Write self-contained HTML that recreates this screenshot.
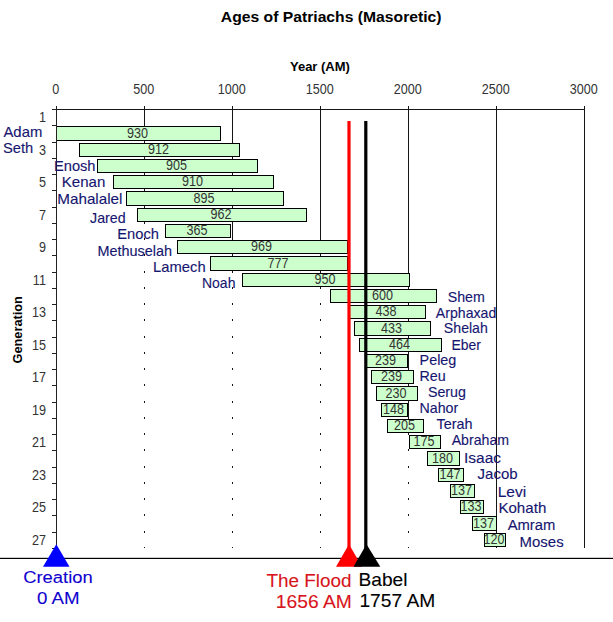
<!DOCTYPE html><html><head><meta charset="utf-8"><title>Ages of Patriachs</title><style>html,body{margin:0;padding:0;background:#fff;}#c{position:relative;width:613px;height:622px;overflow:hidden;font-family:"Liberation Sans",sans-serif;}</style></head><body><div id="c"><svg width="613" height="622" viewBox="0 0 613 622" shape-rendering="crispEdges" style="position:absolute;left:0;top:0"><rect x="0" y="0" width="613" height="622" fill="#fff"/><rect x="144" y="106" width="1" height="442" fill="#161616"/><rect x="232" y="106" width="1" height="442" fill="#161616"/><rect x="320" y="106" width="1" height="442" fill="#161616"/><rect x="408" y="106" width="1" height="442" fill="#161616"/><rect x="496" y="106" width="1" height="442" fill="#161616"/><rect x="584" y="106" width="1" height="442" fill="#161616"/><rect x="52" y="109" width="533" height="1" fill="#161616"/><rect x="56" y="126" width="165" height="15" fill="#000"/><rect x="57" y="127" width="163" height="13" fill="#ccffcc"/><rect x="57" y="143" width="22" height="14" fill="#fff"/><rect x="79" y="143" width="161" height="14" fill="#000"/><rect x="80" y="144" width="159" height="12" fill="#ccffcc"/><rect x="57" y="159" width="40" height="14" fill="#fff"/><rect x="97" y="159" width="161" height="14" fill="#000"/><rect x="98" y="160" width="159" height="12" fill="#ccffcc"/><rect x="57" y="175" width="56" height="14" fill="#fff"/><rect x="113" y="175" width="161" height="14" fill="#000"/><rect x="114" y="176" width="159" height="12" fill="#ccffcc"/><rect x="57" y="191" width="69" height="15" fill="#fff"/><rect x="126" y="191" width="158" height="15" fill="#000"/><rect x="127" y="192" width="156" height="13" fill="#ccffcc"/><rect x="57" y="208" width="80" height="14" fill="#fff"/><rect x="137" y="208" width="170" height="14" fill="#000"/><rect x="138" y="209" width="168" height="12" fill="#ccffcc"/><rect x="57" y="224" width="108" height="14" fill="#fff"/><rect x="165" y="224" width="66" height="14" fill="#000"/><rect x="166" y="225" width="64" height="12" fill="#ccffcc"/><rect x="57" y="240" width="120" height="14" fill="#fff"/><rect x="177" y="240" width="171" height="14" fill="#000"/><rect x="178" y="241" width="169" height="12" fill="#ccffcc"/><rect x="57" y="256" width="153" height="15" fill="#fff"/><rect x="210" y="256" width="138" height="15" fill="#000"/><rect x="211" y="257" width="136" height="13" fill="#ccffcc"/><rect x="57" y="273" width="185" height="14" fill="#fff"/><rect x="242" y="273" width="168" height="14" fill="#000"/><rect x="243" y="274" width="166" height="12" fill="#ccffcc"/><rect x="57" y="289" width="273" height="14" fill="#fff"/><rect x="330" y="289" width="107" height="14" fill="#000"/><rect x="331" y="290" width="105" height="12" fill="#ccffcc"/><rect x="57" y="305" width="291" height="14" fill="#fff"/><rect x="348" y="305" width="78" height="14" fill="#000"/><rect x="349" y="306" width="76" height="12" fill="#ccffcc"/><rect x="57" y="321" width="297" height="15" fill="#fff"/><rect x="354" y="321" width="77" height="15" fill="#000"/><rect x="355" y="322" width="75" height="13" fill="#ccffcc"/><rect x="57" y="338" width="302" height="14" fill="#fff"/><rect x="359" y="338" width="83" height="14" fill="#000"/><rect x="360" y="339" width="81" height="12" fill="#ccffcc"/><rect x="57" y="354" width="308" height="14" fill="#fff"/><rect x="365" y="354" width="43" height="14" fill="#000"/><rect x="366" y="355" width="41" height="12" fill="#ccffcc"/><rect x="57" y="370" width="314" height="14" fill="#fff"/><rect x="371" y="370" width="43" height="14" fill="#000"/><rect x="372" y="371" width="41" height="12" fill="#ccffcc"/><rect x="57" y="386" width="319" height="15" fill="#fff"/><rect x="376" y="386" width="42" height="15" fill="#000"/><rect x="377" y="387" width="40" height="13" fill="#ccffcc"/><rect x="57" y="403" width="324" height="14" fill="#fff"/><rect x="381" y="403" width="27" height="14" fill="#000"/><rect x="382" y="404" width="25" height="12" fill="#ccffcc"/><rect x="57" y="419" width="330" height="14" fill="#fff"/><rect x="387" y="419" width="37" height="14" fill="#000"/><rect x="388" y="420" width="35" height="12" fill="#ccffcc"/><rect x="57" y="435" width="352" height="14" fill="#fff"/><rect x="409" y="435" width="32" height="14" fill="#000"/><rect x="410" y="436" width="30" height="12" fill="#ccffcc"/><rect x="57" y="451" width="370" height="15" fill="#fff"/><rect x="427" y="451" width="33" height="15" fill="#000"/><rect x="428" y="452" width="31" height="13" fill="#ccffcc"/><rect x="57" y="468" width="381" height="14" fill="#fff"/><rect x="438" y="468" width="26" height="14" fill="#000"/><rect x="439" y="469" width="24" height="12" fill="#ccffcc"/><rect x="57" y="484" width="393" height="14" fill="#fff"/><rect x="450" y="484" width="25" height="14" fill="#000"/><rect x="451" y="485" width="23" height="12" fill="#ccffcc"/><rect x="57" y="500" width="403" height="14" fill="#fff"/><rect x="460" y="500" width="24" height="14" fill="#000"/><rect x="461" y="501" width="22" height="12" fill="#ccffcc"/><rect x="57" y="516" width="415" height="15" fill="#fff"/><rect x="472" y="516" width="25" height="15" fill="#000"/><rect x="473" y="517" width="23" height="13" fill="#ccffcc"/><rect x="57" y="533" width="427" height="14" fill="#fff"/><rect x="484" y="533" width="22" height="14" fill="#000"/><rect x="485" y="534" width="20" height="12" fill="#ccffcc"/><rect x="56" y="106" width="1" height="442" fill="#222"/><rect x="52" y="109" width="4" height="1" fill="#222"/><rect x="52" y="125" width="4" height="1" fill="#222"/><rect x="52" y="142" width="4" height="1" fill="#222"/><rect x="52" y="158" width="4" height="1" fill="#222"/><rect x="52" y="174" width="4" height="1" fill="#222"/><rect x="52" y="190" width="4" height="1" fill="#222"/><rect x="52" y="207" width="4" height="1" fill="#222"/><rect x="52" y="223" width="4" height="1" fill="#222"/><rect x="52" y="239" width="4" height="1" fill="#222"/><rect x="52" y="255" width="4" height="1" fill="#222"/><rect x="52" y="272" width="4" height="1" fill="#222"/><rect x="52" y="288" width="4" height="1" fill="#222"/><rect x="52" y="304" width="4" height="1" fill="#222"/><rect x="52" y="320" width="4" height="1" fill="#222"/><rect x="52" y="337" width="4" height="1" fill="#222"/><rect x="52" y="353" width="4" height="1" fill="#222"/><rect x="52" y="369" width="4" height="1" fill="#222"/><rect x="52" y="385" width="4" height="1" fill="#222"/><rect x="52" y="402" width="4" height="1" fill="#222"/><rect x="52" y="418" width="4" height="1" fill="#222"/><rect x="52" y="434" width="4" height="1" fill="#222"/><rect x="52" y="450" width="4" height="1" fill="#222"/><rect x="52" y="467" width="4" height="1" fill="#222"/><rect x="52" y="483" width="4" height="1" fill="#222"/><rect x="52" y="499" width="4" height="1" fill="#222"/><rect x="52" y="515" width="4" height="1" fill="#222"/><rect x="52" y="532" width="4" height="1" fill="#222"/><rect x="52" y="548" width="4" height="1" fill="#222"/></svg><svg width="613" height="622" viewBox="0 0 613 622" style="position:absolute;left:0;top:0"><rect x="0" y="557.8" width="613" height="1.2" fill="#000"/><rect x="347.4" y="121" width="3.2" height="430" fill="#ff0000"/><polygon points="349,544.2 362,566.8 336,566.8" fill="#ff0000"/><rect x="364.2" y="121" width="3.2" height="430" fill="#000"/><polygon points="366.5,544.2 380.3,566.8 353.5,566.8" fill="#000"/><polygon points="56.3,544.2 69.5,566.8 43,566.8" fill="#0000ff"/></svg><svg width="613" height="622" viewBox="0 0 613 622" style="position:absolute;left:0;top:0" font-family="Liberation Sans, sans-serif"><text transform="translate(137.50,137.50) scale(0.9,1)" font-size="14" fill="#333" text-anchor="middle">930</text><text transform="translate(158.50,154.00) scale(0.9,1)" font-size="14" fill="#333" text-anchor="middle">912</text><text transform="translate(176.50,170.00) scale(0.9,1)" font-size="14" fill="#333" text-anchor="middle">905</text><text transform="translate(192.50,186.00) scale(0.9,1)" font-size="14" fill="#333" text-anchor="middle">910</text><text transform="translate(204.00,202.50) scale(0.9,1)" font-size="14" fill="#333" text-anchor="middle">895</text><text transform="translate(221.00,219.00) scale(0.9,1)" font-size="14" fill="#333" text-anchor="middle">962</text><text transform="translate(197.00,235.00) scale(0.9,1)" font-size="14" fill="#333" text-anchor="middle">365</text><text transform="translate(261.50,251.00) scale(0.9,1)" font-size="14" fill="#333" text-anchor="middle">969</text><text transform="translate(278.00,267.50) scale(0.9,1)" font-size="14" fill="#333" text-anchor="middle">777</text><text transform="translate(325.00,284.00) scale(0.9,1)" font-size="14" fill="#333" text-anchor="middle">950</text><text transform="translate(382.50,300.00) scale(0.9,1)" font-size="14" fill="#333" text-anchor="middle">600</text><text transform="translate(386.00,316.00) scale(0.9,1)" font-size="14" fill="#333" text-anchor="middle">438</text><text transform="translate(391.50,332.50) scale(0.9,1)" font-size="14" fill="#333" text-anchor="middle">433</text><text transform="translate(399.50,349.00) scale(0.9,1)" font-size="14" fill="#333" text-anchor="middle">464</text><text transform="translate(385.50,365.00) scale(0.9,1)" font-size="14" fill="#333" text-anchor="middle">239</text><text transform="translate(391.50,381.00) scale(0.9,1)" font-size="14" fill="#333" text-anchor="middle">239</text><text transform="translate(396.00,397.50) scale(0.9,1)" font-size="14" fill="#333" text-anchor="middle">230</text><text transform="translate(393.50,414.00) scale(0.9,1)" font-size="14" fill="#333" text-anchor="middle">148</text><text transform="translate(404.50,430.00) scale(0.9,1)" font-size="14" fill="#333" text-anchor="middle">205</text><text transform="translate(424.00,446.00) scale(0.9,1)" font-size="14" fill="#333" text-anchor="middle">175</text><text transform="translate(442.50,462.50) scale(0.9,1)" font-size="14" fill="#333" text-anchor="middle">180</text><text transform="translate(450.00,479.00) scale(0.9,1)" font-size="14" fill="#333" text-anchor="middle">147</text><text transform="translate(461.50,495.00) scale(0.9,1)" font-size="14" fill="#333" text-anchor="middle">137</text><text transform="translate(471.00,511.00) scale(0.9,1)" font-size="14" fill="#333" text-anchor="middle">133</text><text transform="translate(483.50,527.50) scale(0.9,1)" font-size="14" fill="#333" text-anchor="middle">137</text><text transform="translate(494.00,544.00) scale(0.9,1)" font-size="14" fill="#333" text-anchor="middle">120</text><text transform="translate(55.80,93.7) scale(0.9,1)" font-size="14" fill="#333" text-anchor="middle">0</text><text transform="translate(143.80,93.7) scale(0.9,1)" font-size="14" fill="#333" text-anchor="middle">500</text><text transform="translate(231.80,93.7) scale(0.9,1)" font-size="14" fill="#333" text-anchor="middle">1000</text><text transform="translate(319.80,93.7) scale(0.9,1)" font-size="14" fill="#333" text-anchor="middle">1500</text><text transform="translate(407.80,93.7) scale(0.9,1)" font-size="14" fill="#333" text-anchor="middle">2000</text><text transform="translate(495.80,93.7) scale(0.9,1)" font-size="14" fill="#333" text-anchor="middle">2500</text><text transform="translate(583.80,93.7) scale(0.9,1)" font-size="14" fill="#333" text-anchor="middle">3000</text><text transform="translate(45.9,122.33) scale(0.9,1)" font-size="14" fill="#333" text-anchor="end">1</text><text transform="translate(45.9,154.82) scale(0.9,1)" font-size="14" fill="#333" text-anchor="end">3</text><text transform="translate(45.9,187.32) scale(0.9,1)" font-size="14" fill="#333" text-anchor="end">5</text><text transform="translate(45.9,219.82) scale(0.9,1)" font-size="14" fill="#333" text-anchor="end">7</text><text transform="translate(45.9,252.32) scale(0.9,1)" font-size="14" fill="#333" text-anchor="end">9</text><text transform="translate(45.9,284.82) scale(0.9,1)" font-size="14" fill="#333" text-anchor="end">11</text><text transform="translate(45.9,317.32) scale(0.9,1)" font-size="14" fill="#333" text-anchor="end">13</text><text transform="translate(45.9,349.82) scale(0.9,1)" font-size="14" fill="#333" text-anchor="end">15</text><text transform="translate(45.9,382.32) scale(0.9,1)" font-size="14" fill="#333" text-anchor="end">17</text><text transform="translate(45.9,414.82) scale(0.9,1)" font-size="14" fill="#333" text-anchor="end">19</text><text transform="translate(45.9,447.32) scale(0.9,1)" font-size="14" fill="#333" text-anchor="end">21</text><text transform="translate(45.9,479.82) scale(0.9,1)" font-size="14" fill="#333" text-anchor="end">23</text><text transform="translate(45.9,512.33) scale(0.9,1)" font-size="14" fill="#333" text-anchor="end">25</text><text transform="translate(45.9,544.83) scale(0.9,1)" font-size="14" fill="#333" text-anchor="end">27</text><text transform="translate(22.2,329.8) rotate(-90) scale(0.945,1)" x="0" y="0" font-size="13.5" font-weight="bold" fill="#000" text-anchor="middle">Generation</text><text transform="translate(220.79,22.20) scale(1.1058,1)" font-size="14.2" font-weight="bold" fill="#000">Ages of Patriachs (Masoretic)</text><text transform="translate(289.95,71.00) scale(1.0168,1)" font-size="12.8" font-weight="bold" fill="#000">Year (AM)</text><text transform="translate(3.47,136.60) scale(1.0695,1)" font-size="13.9" font-weight="normal" fill="#161670" stroke="#161670" stroke-width="0.12">Adam</text><text transform="translate(2.94,153.10) scale(1.0581,1)" font-size="13.9" font-weight="normal" fill="#161670" stroke="#161670" stroke-width="0.12">Seth</text><text transform="translate(54.01,170.50) scale(1.0542,1)" font-size="13.9" font-weight="normal" fill="#161670" stroke="#161670" stroke-width="0.12">Enosh</text><text transform="translate(61.78,186.80) scale(1.0833,1)" font-size="13.9" font-weight="normal" fill="#161670" stroke="#161670" stroke-width="0.12">Kenan</text><text transform="translate(57.27,203.90) scale(1.0957,1)" font-size="13.9" font-weight="normal" fill="#161670" stroke="#161670" stroke-width="0.12">Mahalalel</text><text transform="translate(90.04,222.70) scale(1.0230,1)" font-size="13.9" font-weight="normal" fill="#161670" stroke="#161670" stroke-width="0.12">Jared</text><text transform="translate(117.31,239.00) scale(1.0595,1)" font-size="13.9" font-weight="normal" fill="#161670" stroke="#161670" stroke-width="0.12">Enoch</text><text transform="translate(97.53,255.50) scale(1.0376,1)" font-size="13.9" font-weight="normal" fill="#161670" stroke="#161670" stroke-width="0.12">Methuselah</text><text transform="translate(153.11,271.70) scale(1.0617,1)" font-size="13.9" font-weight="normal" fill="#161670" stroke="#161670" stroke-width="0.12">Lamech</text><text transform="translate(201.97,288.10) scale(1.0080,1)" font-size="13.9" font-weight="normal" fill="#161670" stroke="#161670" stroke-width="0.12">Noah</text><text transform="translate(447.76,301.70) scale(1.0216,1)" font-size="13.9" font-weight="normal" fill="#161670" stroke="#161670" stroke-width="0.12">Shem</text><text transform="translate(435.87,317.60) scale(1.0154,1)" font-size="13.9" font-weight="normal" fill="#161670" stroke="#161670" stroke-width="0.12">Arphaxad</text><text transform="translate(443.87,333.00) scale(1.0156,1)" font-size="13.9" font-weight="normal" fill="#161670" stroke="#161670" stroke-width="0.12">Shelah</text><text transform="translate(451.47,349.60) scale(1.0036,1)" font-size="13.9" font-weight="normal" fill="#161670" stroke="#161670" stroke-width="0.12">Eber</text><text transform="translate(419.53,365.20) scale(1.0358,1)" font-size="13.9" font-weight="normal" fill="#161670" stroke="#161670" stroke-width="0.12">Peleg</text><text transform="translate(419.54,380.90) scale(1.0298,1)" font-size="13.9" font-weight="normal" fill="#161670" stroke="#161670" stroke-width="0.12">Reu</text><text transform="translate(427.96,397.10) scale(1.0254,1)" font-size="13.9" font-weight="normal" fill="#161670" stroke="#161670" stroke-width="0.12">Serug</text><text transform="translate(419.55,413.00) scale(1.0219,1)" font-size="13.9" font-weight="normal" fill="#161670" stroke="#161670" stroke-width="0.12">Nahor</text><text transform="translate(436.51,429.20) scale(1.0358,1)" font-size="13.9" font-weight="normal" fill="#161670" stroke="#161670" stroke-width="0.12">Terah</text><text transform="translate(451.67,444.70) scale(1.0185,1)" font-size="13.9" font-weight="normal" fill="#161670" stroke="#161670" stroke-width="0.12">Abraham</text><text transform="translate(464.00,462.50) scale(1.1162,1)" font-size="13.9" font-weight="normal" fill="#161670" stroke="#161670" stroke-width="0.12">Isaac</text><text transform="translate(477.53,479.40) scale(1.0814,1)" font-size="13.9" font-weight="normal" fill="#161670" stroke="#161670" stroke-width="0.12">Jacob</text><text transform="translate(497.74,496.50) scale(1.1166,1)" font-size="13.9" font-weight="normal" fill="#161670" stroke="#161670" stroke-width="0.12">Levi</text><text transform="translate(498.38,512.80) scale(1.0881,1)" font-size="13.9" font-weight="normal" fill="#161670" stroke="#161670" stroke-width="0.12">Kohath</text><text transform="translate(507.67,530.10) scale(1.0651,1)" font-size="13.9" font-weight="normal" fill="#161670" stroke="#161670" stroke-width="0.12">Amram</text><text transform="translate(519.59,547.10) scale(1.0768,1)" font-size="13.9" font-weight="normal" fill="#161670" stroke="#161670" stroke-width="0.12">Moses</text><text transform="translate(23.22,583.00) scale(1.1147,1)" font-size="16.5" font-weight="normal" fill="#1000d0" stroke="#1000d0" stroke-width="0.1">Creation</text><text transform="translate(36.89,603.50) scale(1.1340,1)" font-size="16.5" font-weight="normal" fill="#1000d0" stroke="#1000d0" stroke-width="0.1">0 AM</text><text transform="translate(266.42,586.60) scale(1.0121,1)" font-size="18.67" font-weight="normal" fill="#d81420" stroke="#d81420" stroke-width="0.1">The Flood</text><text transform="translate(275.68,608.20) scale(1.0346,1)" font-size="18.67" font-weight="normal" fill="#d81420" stroke="#d81420" stroke-width="0.1">1656 AM</text><text transform="translate(358.46,585.80) scale(1.0267,1)" font-size="18.67" font-weight="normal" fill="#000" stroke="#000" stroke-width="0.1">Babel</text><text transform="translate(359.38,606.70) scale(1.0304,1)" font-size="18.67" font-weight="normal" fill="#000" stroke="#000" stroke-width="0.1">1757 AM</text></svg></div></body></html>
